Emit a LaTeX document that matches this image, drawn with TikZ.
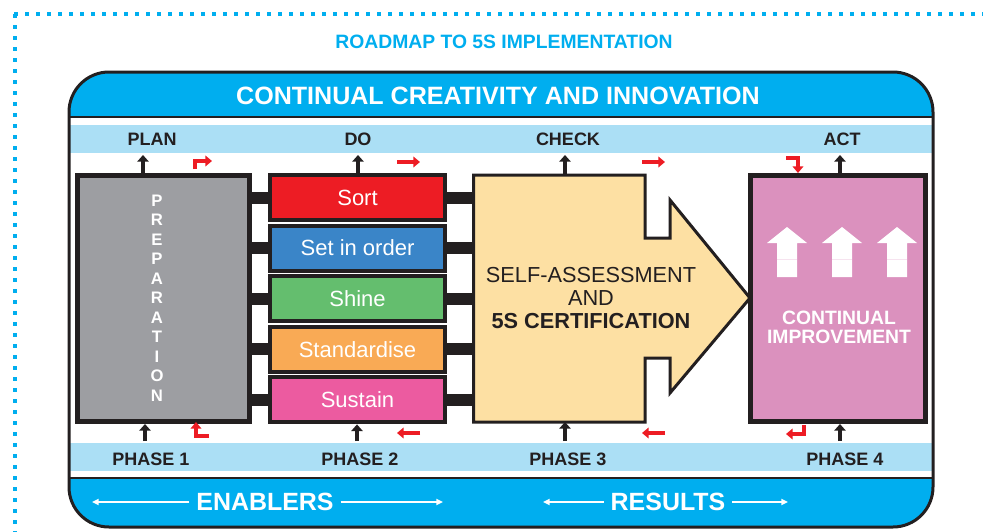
\documentclass[tikz,border=0pt]{standalone}
\usepackage{fontspec}
\setmainfont{Liberation Sans}
\usetikzlibrary{positioning,arrows.meta}
\definecolor{cyanBand}{HTML}{00AEEF}
\definecolor{paleBand}{HTML}{ABDFF5}
\definecolor{ink}{HTML}{231F20}
\definecolor{prepGrey}{HTML}{9D9EA2}
\definecolor{sortRed}{HTML}{ED1C24}
\definecolor{setBlue}{HTML}{3A85C8}
\definecolor{shineGreen}{HTML}{64BE6E}
\definecolor{stdOrange}{HTML}{F9AA55}
\definecolor{sustainPink}{HTML}{EC5BA0}
\definecolor{checkSand}{HTML}{FDE0A3}
\definecolor{actMauve}{HTML}{DB91BE}
\definecolor{flowRed}{HTML}{ED1C24}
\tikzset{
    roadTitle/.style={text=cyanBand, font=\bfseries\fontsize{14.5}{17}\selectfont},
    bandTitle/.style={text=white, font=\bfseries\fontsize{18.8}{22}\selectfont},
    stageLabel/.style={text=ink, font=\bfseries\fontsize{13.5}{16}\selectfont},
    footLabel/.style={text=white, font=\bfseries\fontsize{18.7}{22}\selectfont, inner sep=5pt},
    sBox/.style={draw=ink, line width=3pt, minimum width=131.25pt, minimum height=33.75pt,
        inner sep=0pt, text=white, font=\fontsize{16.5}{19}\selectfont},
    prepBox/.style={draw=ink, fill=prepGrey, line width=3.75pt, minimum width=129pt, minimum height=184.5pt},
    actBox/.style={draw=ink, fill=actMauve, line width=3.75pt, minimum width=131.25pt, minimum height=184.5pt},
    prepText/.style={text=white, align=center, font=\bfseries\fontsize{12.5}{14.6}\selectfont},
    checkShape/.style={draw=ink, fill=checkSand, line width=2.25pt, line join=miter},
    checkText/.style={text=ink, align=center, font=\fontsize{16.3}{17}\selectfont},
    actText/.style={text=white, align=center, font=\bfseries\fontsize{14.5}{14.25}\selectfont},
    barLink/.style={draw=ink, line width=9pt},
    blkArrow/.style={draw=ink, line width=3pt, -{Triangle[length=5pt,width=8.5pt]}},
    flowArrow/.style={draw=flowRed, line width=2.5pt, line join=miter, -{Triangle[length=5pt,width=8pt]}},
    whiteArrow/.style={draw=white, line width=1.4pt, -{Triangle[length=5pt,width=4.5pt]}},
    dotLine/.style={draw=cyanBand, line width=3pt, dash pattern=on 3pt off 5.25pt}
}
\begin{document}
\begin{tikzpicture}[x=0.75pt, y=-0.75pt]
    \useasboundingbox (0,0) rectangle (983,532);
    \def\rowSort{197.5}
    \def\rowSet{248.1}
    \def\rowShine{298.7}
    \def\rowStd{349.3}
    \def\rowSustain{399.9}
    \def\topLabels{139}
    \def\footPhases{459}
    \draw[dotLine] (14,14) -- (983,14);
    \draw[dotLine] (15,14) -- (15,532);
    \node[roadTitle] (roadmap) at (504,42) {ROADMAP TO 5S IMPLEMENTATION};
    % frame and bands
    \fill[cyanBand, rounded corners=30pt] (69,72) rectangle (933,527);
    \fill[white] (70,117) rectangle (932,478);
    \fill[paleBand] (70,125) rectangle (932,153);
    \fill[paleBand] (70,443) rectangle (932,471);
    \draw[ink, line width=1.8pt] (69,117) -- (933,117);
    \draw[ink, line width=1.8pt] (69,478) -- (933,478);
    \draw[ink, line width=2.25pt, rounded corners=30pt] (69,72) rectangle (933,527);
    \node[bandTitle] (creativity) at (498,96) {CONTINUAL CREATIVITY AND INNOVATION};
    \node[stageLabel] (plan) at (152,\topLabels) {PLAN};
    \node[stageLabel] (do) at (358,\topLabels) {DO};
    \node[stageLabel] (check) at (568,\topLabels) {CHECK};
    \node[stageLabel] (act) at (842,\topLabels) {ACT};
    \node[stageLabel] (phaseOne) at (151,\footPhases) {PHASE 1};
    \node[stageLabel] (phaseTwo) at (360,\footPhases) {PHASE 2};
    \node[stageLabel] (phaseThree) at (568,\footPhases) {PHASE 3};
    \node[stageLabel] (phaseFour) at (845,\footPhases) {PHASE 4};
    \node[footLabel] (enablers) at (265,502) {ENABLERS};
    \node[footLabel] (results) at (668,502) {RESULTS};
    \coordinate (enablersEnd) at (92,502);
    \coordinate (enablersHead) at (443,502);
    \coordinate (resultsEnd) at (543,502);
    \coordinate (resultsHead) at (788,502);
    \draw[whiteArrow] (enablers.west) -- (enablersEnd);
    \draw[whiteArrow] (enablers.east) -- (enablersHead);
    \draw[whiteArrow] (results.west) -- (resultsEnd);
    \draw[whiteArrow] (results.east) -- (resultsHead);
    % phase boxes
    \node[prepBox] (prep) at (163.5,298.5) {};
    \node[prepText] (prepLetters) at (157,298) {P\\R\\E\\P\\A\\R\\A\\T\\I\\O\\N};
    \node[sBox, fill=sortRed] (sort) at (357.5,\rowSort) {Sort};
    \node[sBox, fill=setBlue] (setOrder) at (357.5,\rowSet) {Set in order};
    \node[sBox, fill=shineGreen] (shine) at (357.5,\rowShine) {Shine};
    \node[sBox, fill=stdOrange] (standardise) at (357.5,\rowStd) {Standardise};
    \node[sBox, fill=sustainPink] (sustain) at (357.5,\rowSustain) {Sustain};
    \draw[checkShape] (473.5,175) -- (645,175) -- (645,238) -- (670,238) -- (670,200) -- (750,298)
        -- (670,393) -- (670,358) -- (645,358) -- (645,422) -- (473.5,422) -- cycle;
    \coordinate (checkWest) at (473.5,298);
    \coordinate (checkTopEdge) at (565,175);
    \coordinate (checkFootEdge) at (565,422);
    \node[checkText] (selfAssess) at (591,298) {SELF-ASSESSMENT\\AND\\\textbf{5S CERTIFICATION}};
    \node[actBox] (improve) at (838,298.5) {};
    \foreach \cx in {787,842,897} {
        \fill[white] (\cx-10,277) -- (\cx-10,243) -- (\cx-20,243) -- (\cx,227) -- (\cx+20,243)
            -- (\cx+10,243) -- (\cx+10,277) -- cycle;
        \draw[actMauve!25, line width=0.5pt] (\cx-10,259) -- (\cx+10,259);
    }
    \node[actText] (improveText) at (839,327) {CONTINUAL\\IMPROVEMENT};
    \foreach \sname in {sort,setOrder,shine,standardise,sustain} {
        \draw[barLink] (prep.east |- \sname.west) -- (\sname.west);
        \draw[barLink] (\sname.east) -- (checkWest |- \sname.east);
    }
    % up arrows
    \coordinate (planTip) at (143,155);
    \coordinate (doTip) at (358,155);
    \coordinate (checkTip) at (565,155);
    \coordinate (actTip) at (840,155);
    \coordinate (phaseOneTail) at (145,441);
    \coordinate (phaseTwoTail) at (357,441);
    \coordinate (phaseThreeTail) at (565,441);
    \coordinate (phaseFourTail) at (840,441);
    \draw[blkArrow] (prep.north -| planTip) -- (planTip);
    \draw[blkArrow] (sort.north -| doTip) -- (doTip);
    \draw[blkArrow] (checkTopEdge) -- (checkTip);
    \draw[blkArrow] (improve.north -| actTip) -- (actTip);
    \draw[blkArrow] (phaseOneTail) -- (prep.south -| phaseOneTail);
    \draw[blkArrow] (phaseTwoTail) -- (sustain.south -| phaseTwoTail);
    \draw[blkArrow] (phaseThreeTail) -- (checkFootEdge);
    \draw[blkArrow] (phaseFourTail) -- (improve.south -| phaseFourTail);
    % red cycle
    \draw[flowArrow] (195,169) -- (195,161) -- (212,161);
    \draw[flowArrow] (397,162) -- (420,162);
    \draw[flowArrow] (642,162) -- (665,162);
    \draw[flowArrow] (786,158) -- (798,158) -- (798,173);
    \draw[flowArrow] (804,425) -- (804,434) -- (786,434);
    \draw[flowArrow] (665,433) -- (642,433);
    \draw[flowArrow] (420,433) -- (397,433);
    \draw[flowArrow] (209,436) -- (196,436) -- (196,422);
\end{tikzpicture}
\end{document}
